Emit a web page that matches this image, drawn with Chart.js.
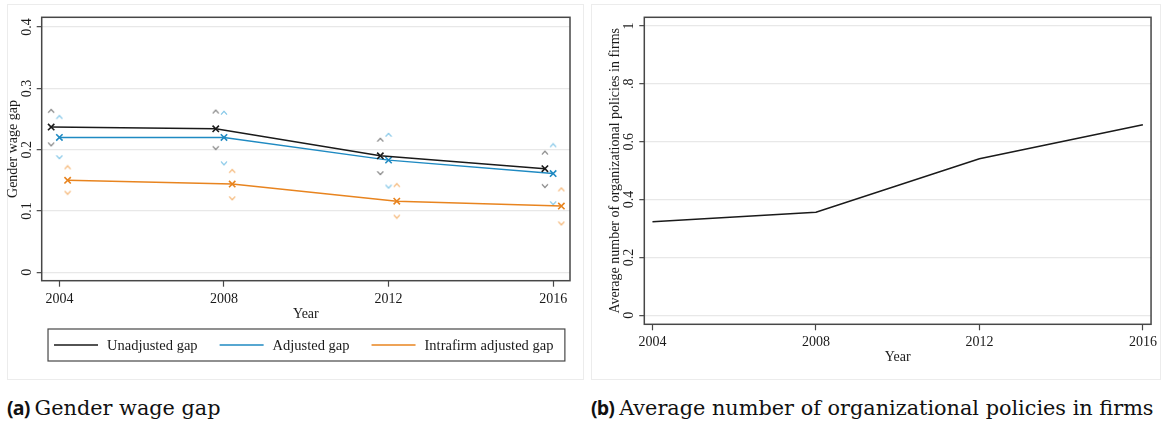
<!DOCTYPE html>
<html><head><meta charset="utf-8">
<script src="https://cdn.jsdelivr.net/npm/chart.js@4.4.1/dist/chart.umd.min.js"></script>
<style>
html,body{margin:0;padding:0;background:#fff;}
body{width:1161px;height:423px;position:relative;overflow:hidden;}
.frame{position:absolute;border:1px solid #ececec;box-sizing:border-box;}
canvas{position:absolute;top:0;}
.cap{position:absolute;top:398px;font-family:'DejaVu Serif';font-size:20.8px;line-height:20px;color:#111;white-space:nowrap;}
.cap b{font-family:'Open Sans';font-weight:700;font-size:19.5px;letter-spacing:-0.8px;margin-right:5px;}
</style></head><body>
<div class="frame" style="left:7px;top:4px;width:577px;height:376px"></div>
<div class="frame" style="left:591px;top:4px;width:570px;height:376px"></div>
<canvas id="ca" width="590" height="385" style="left:0"></canvas>
<canvas id="cb" width="571" height="385" style="left:590px"></canvas>
<div class="cap" style="left:7px"><b>(a)</b>Gender wage gap</div>
<div class="cap" style="left:591px"><b>(b)</b>Average number of organizational policies in firms</div>
<script>
// ---- data ----
const years = [2004, 2008, 2012, 2016];
const xTickLabels = ['2004', '2008', '2012', '2016'];
const seriesNames = ['Unadjusted gap', 'Adjusted gap', 'Intrafirm adjusted gap'];
const unadjusted = [0.237, 0.234, 0.190, 0.169];
const unadjustedHi = [0.263, 0.262, 0.216, 0.195];
const unadjustedLo = [0.209, 0.203, 0.162, 0.141];
const adjusted = [0.220, 0.220, 0.183, 0.161];
const adjustedHi = [0.253, 0.260, 0.224, 0.207];
const adjustedLo = [0.188, 0.178, 0.140, 0.113];
const intrafirm = [0.150, 0.144, 0.116, 0.108];
const intrafirmHi = [0.171, 0.165, 0.142, 0.135];
const intrafirmLo = [0.130, 0.121, 0.091, 0.080];
const yTicksA = [0, 0.1, 0.2, 0.3, 0.4];
const yTickLabelsA = ['0', '0.1', '0.2', '0.3', '0.4'];
const policies = [0.323, 0.356, 0.541, 0.659];
const yTicksB = [0, 0.2, 0.4, 0.6, 0.8, 1];
const yTickLabelsB = ['0', '0.2', '0.4', '0.6', '.8', '1'];

// ---- styles ----
const lineColors = ['#1a1a1a', '#1f8ac2', '#e8841f'];
const ciColors = ['#7a7a7a', '#7cc3e6', '#f4b16c'];
const dodge = [-0.2, 0, 0.2];
const axisColor = '#474747';
const gridColor = '#e8e8e8';
const SERIF = "'Liberation Serif', 'Times New Roman', serif";

Chart.defaults.font.family = SERIF;
Chart.defaults.font.size = 14;
Chart.defaults.color = '#1a1a1a';
Chart.defaults.animation = false;

function chevron(color, up) {
  const c = document.createElement('canvas');
  c.width = 8; c.height = 6;
  const g = c.getContext('2d');
  g.strokeStyle = color; g.lineWidth = 1.1; g.beginPath();
  if (up) { g.moveTo(1, 4.6); g.lineTo(4, 1.4); g.lineTo(7, 4.6); }
  else { g.moveTo(1, 1.4); g.lineTo(4, 4.6); g.lineTo(7, 1.4); }
  g.stroke();
  return c;
}
const pts = (vals, d) => years.map((yr, i) => ({ x: yr + d, y: vals[i] }));

const framePlugin = {
  id: 'frame',
  afterDatasetsDraw(chart) {
    const a = chart.chartArea, ctx = chart.ctx;
    ctx.save(); ctx.strokeStyle = axisColor; ctx.lineWidth = 1.5;
    ctx.strokeRect(a.left, a.top, a.right - a.left, a.bottom - a.top);
    ctx.restore();
  }
};

const legendPlugin = {
  id: 'boxLegend',
  afterDraw(chart) {
    const ctx = chart.ctx, a = chart.chartArea, xs = chart.scales.x;
    ctx.save();
    ctx.font = '14.5px ' + SERIF;
    const items = seriesNames.map((n, i) => ({ text: n, color: lineColors[i], w: ctx.measureText(n).width }));
    const lineLen = 44, gapText = 9, gapItem = 22, padL = 6, padR = 11.5, h = 32;
    const total = items.reduce((s, it) => s + lineLen + gapText + it.w, 0) + gapItem * (items.length - 1);
    const boxW = total + padL + padR;
    const cx = (a.left + a.right) / 2 + 0.6;
    const boxL = cx - boxW / 2;
    let x = boxL + padL;
    const top = xs.bottom;
    ctx.strokeStyle = axisColor; ctx.lineWidth = 1.2;
    ctx.strokeRect(boxL, top, boxW, h);
    const my = top + h / 2;
    items.forEach(it => {
      ctx.strokeStyle = it.color; ctx.lineWidth = 1.5;
      ctx.beginPath(); ctx.moveTo(x, my); ctx.lineTo(x + lineLen, my); ctx.stroke();
      ctx.fillStyle = '#1a1a1a'; ctx.textBaseline = 'middle'; ctx.textAlign = 'left';
      ctx.fillText(it.text, x + lineLen + gapText, my + 1);
      x += lineLen + gapText + it.w + gapItem;
    });
    ctx.restore();
  }
};

const mainSets = [unadjusted, adjusted, intrafirm];
const hiSets = [unadjustedHi, adjustedHi, intrafirmHi];
const loSets = [unadjustedLo, adjustedLo, intrafirmLo];
const dsA = [];
mainSets.forEach((vals, i) => {
  dsA.push({
    label: seriesNames[i], data: pts(vals, dodge[i]), showLine: true,
    borderColor: lineColors[i], backgroundColor: lineColors[i], borderWidth: 1.5,
    pointStyle: 'crossRot', pointRadius: 4.5, pointBorderWidth: 1.6, tension: 0
  });
});
mainSets.forEach((vals, i) => {
  dsA.push({ label: '', data: pts(hiSets[i], dodge[i]), showLine: false,
    pointStyle: chevron(ciColors[i], true), pointRadius: 4 });
  dsA.push({ label: '', data: pts(loSets[i], dodge[i]), showLine: false,
    pointStyle: chevron(ciColors[i], false), pointRadius: 4 });
});

new Chart(document.getElementById('ca'), {
  type: 'scatter',
  data: { datasets: dsA },
  options: {
    responsive: false, devicePixelRatio: 1,
    layout: { padding: { left: 0, top: 17.3, right: 20, bottom: 56 } },
    plugins: { legend: { display: false }, tooltip: { enabled: false } },
    scales: {
      x: {
        type: 'linear', min: 2003.57, max: 2016.41,
        afterBuildTicks: s => { s.ticks = years.map(v => ({ value: v })); },
        afterFit: s => { s.height = 48.3; },
        ticks: { callback: (v, i) => xTickLabels[i], padding: 4, maxRotation: 0, autoSkip: false },
        grid: { drawOnChartArea: false, tickLength: 6, tickColor: axisColor, tickWidth: 1.2 },
        border: { display: false },
        title: { display: true, text: 'Year', padding: { top: 0, bottom: 6.6 } }
      },
      y: {
        min: -0.0137, max: 0.416,
        afterBuildTicks: s => { s.ticks = yTicksA.map(v => ({ value: v })); },
        afterFit: s => { s.width = 41.7; },
        ticks: { callback: (v, i) => yTickLabelsA[i], minRotation: 90, maxRotation: 90, crossAlign: 'center', padding: 1 },
        grid: { color: gridColor, lineWidth: 1.3, tickColor: axisColor, tickLength: 5, tickWidth: 1.2 },
        border: { display: false },
        title: { display: true, text: 'Gender wage gap', padding: { top: 4.9, bottom: 0 } }
      }
    }
  },
  plugins: [framePlugin, legendPlugin]
});

new Chart(document.getElementById('cb'), {
  type: 'scatter',
  data: { datasets: [{
    label: 'Average number of organizational policies', data: pts(policies, 0), showLine: true,
    borderColor: '#1a1a1a', borderWidth: 1.5, pointRadius: 0, tension: 0
  }] },
  options: {
    responsive: false, devicePixelRatio: 1,
    layout: { padding: { left: 0, top: 17.3, right: 7.7, bottom: 15.7 } },
    plugins: { legend: { display: false }, tooltip: { enabled: false } },
    scales: {
      x: {
        type: 'linear', min: 2003.8, max: 2016.2,
        afterBuildTicks: s => { s.ticks = years.map(v => ({ value: v })); },
        afterFit: s => { s.height = 45; },
        ticks: { callback: (v, i) => xTickLabels[i], padding: 4, maxRotation: 0, autoSkip: false },
        grid: { drawOnChartArea: false, tickLength: 6, tickColor: axisColor, tickWidth: 1.2 },
        border: { display: false },
        title: { display: true, text: 'Year', padding: { top: 0, bottom: 3.6 } }
      },
      y: {
        min: -0.031, max: 1.03,
        afterBuildTicks: s => { s.ticks = yTicksB.map(v => ({ value: v })); },
        afterFit: s => { s.width = 54.3; },
        ticks: { callback: (v, i) => yTickLabelsB[i], minRotation: 90, maxRotation: 90, crossAlign: 'center', padding: 1.5 },
        grid: { color: gridColor, lineWidth: 1.3, tickColor: axisColor, tickLength: 5, tickWidth: 1.2 },
        border: { display: false },
        title: { display: true, text: 'Average number of organizational policies in firms', padding: { top: 16.6, bottom: 0 } }
      }
    }
  },
  plugins: [framePlugin]
});
</script>
</body></html>
